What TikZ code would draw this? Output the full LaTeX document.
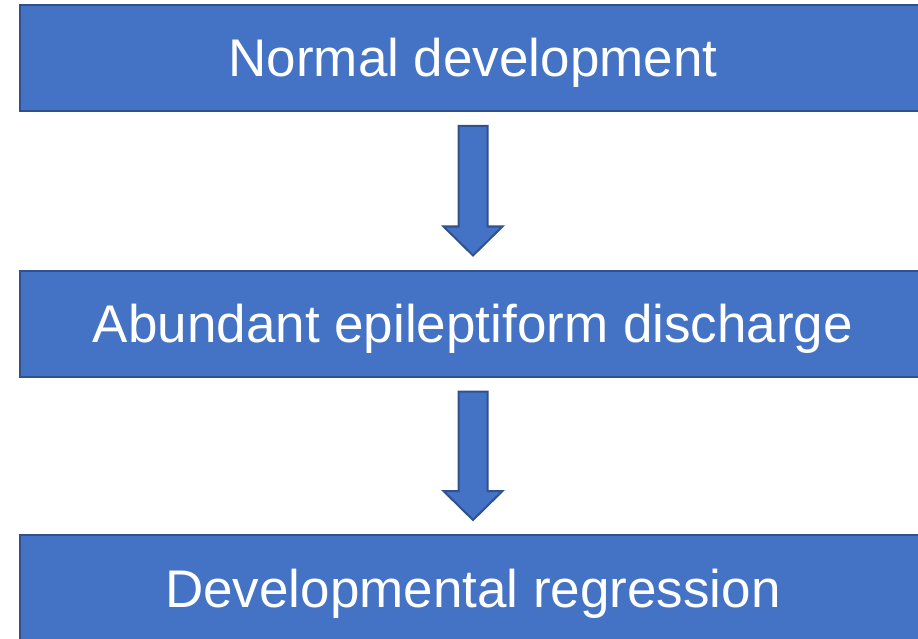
\documentclass[tikz,border=0pt]{standalone}
\usepackage{fontspec}
\setmainfont{Liberation Sans}
\usetikzlibrary{calc}
\definecolor{boxfill}{HTML}{4472C4}
\definecolor{boxline}{HTML}{2F528F}
\tikzset{
  stage/.style={draw=boxline, line width=2pt, fill=boxfill, text=white,
    minimum width=906pt, minimum height=106pt, inner sep=0pt, outer sep=0pt,
    text height=38pt, text depth=0pt,
    font=\fontsize{53}{60}\selectfont},
  downarrow/.style={draw=boxline, line width=2pt, fill=boxfill, line join=miter},
}
\begin{document}
\begin{tikzpicture}[x=1pt,y=-1pt]
\useasboundingbox (0,0) rectangle (918,639);
\clip (0,0) rectangle (918,639);

\node (normal) at (473,58) [stage]{Normal development};
\node (abundant) at (473,323.5) [stage]{Abundant epileptiform discharge};
\node (regression) at (473,588) [stage]{Developmental regression};

\foreach \a/\b in {normal/abundant,abundant/regression}
{
    \draw[downarrow] ($(\a.south)+(-14.5,15)$) -- ($(\a.south)+(14.5,15)$)
      -- ($(\b.north)+(14.5,-44)$) -- ($(\b.north)+(29.5,-44)$)
      -- ($(\b.north)+(0,-15)$) -- ($(\b.north)+(-29.5,-44)$)
      -- ($(\b.north)+(-14.5,-44)$) -- cycle;
}

\end{tikzpicture}
\end{document}
